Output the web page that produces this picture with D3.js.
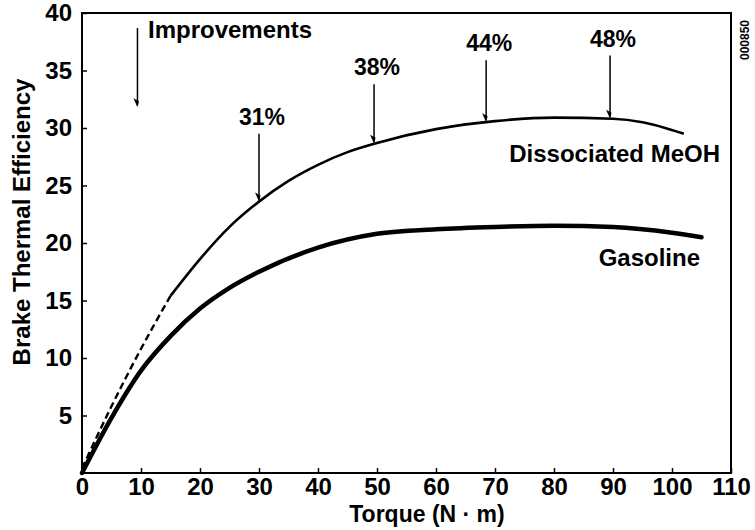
<!DOCTYPE html>
<html>
<head>
<meta charset="utf-8">
<script src="https://cdn.jsdelivr.net/npm/d3@7"></script>
<style>
  body { margin: 0; background: #fff; }
  text { font-family: "Liberation Sans", Arial, sans-serif; font-weight: bold; fill: #000; }
</style>
</head>
<body>
<div id="chart"></div>
<script>
// Torque (N·m) vs brake thermal efficiency (%)
const torqueTicks = [0, 10, 20, 30, 40, 50, 60, 70, 80, 90, 100, 110];
const effTicks = [5, 10, 15, 20, 25, 30, 35, 40];

// Dissociated MeOH, dashed start (extrapolated part)
const meohDashedTorque = [0, 5, 10, 15];
const meohDashedEff = [0.4, 5.8, 10.8, 15.4];
// Dissociated MeOH, measured part
const meohTorque = [15, 20, 25, 30, 35, 40, 45, 50, 60, 70, 80, 90, 95, 102];
const meohEff = [15.4, 18.6, 21.4, 23.6, 25.4, 26.8, 27.9, 28.7, 29.9, 30.6, 30.9, 30.8, 30.5, 29.5];

// Gasoline
const gasTorque = [0, 5, 10, 15, 20, 25, 30, 40, 50, 60, 70, 80, 90, 100, 105];
const gasEff = [0, 4.8, 8.9, 11.9, 14.3, 16.1, 17.5, 19.6, 20.8, 21.2, 21.4, 21.5, 21.4, 20.9, 20.5];

// Improvement arrows: torque position, top of arrow (efficiency units), label
const arrowTorque = [30, 49.5, 68.5, 89.5];
const arrowTop = [29.5, 33.8, 35.9, 36.3];
const arrowLabels = ["31%", "38%", "44%", "48%"];

const width = 755, height = 530;
const margin = { top: 13, right: 24, bottom: 57, left: 82 };

const svg = d3.select("#chart").append("svg")
    .attr("width", width)
    .attr("height", height);

const x = d3.scaleLinear().domain([0, 110]).range([margin.left, width - margin.right]);
const y = d3.scaleLinear().domain([0, 40]).range([height - margin.bottom, margin.top]);

// frame
svg.append("rect")
    .attr("x", x(0)).attr("y", y(40))
    .attr("width", x(110) - x(0)).attr("height", y(0) - y(40))
    .attr("fill", "none").attr("stroke", "#000").attr("stroke-width", 2);

// x axis, ticks pointing inward
const xAxis = svg.append("g")
    .attr("transform", `translate(0,${y(0)})`)
    .call(d3.axisBottom(x).tickValues(torqueTicks).tickSizeInner(-5).tickSizeOuter(0).tickPadding(5).tickFormat(d3.format("d")));
xAxis.select(".domain").remove();
xAxis.selectAll("line").attr("stroke-width", 1.5);
xAxis.selectAll("text").attr("font-size", 24).attr("font-family", "Liberation Sans, Arial, sans-serif");

// y axis, ticks pointing inward
const yAxis = svg.append("g")
    .attr("transform", `translate(${x(0)},0)`)
    .call(d3.axisLeft(y).tickValues(effTicks).tickSizeInner(-5).tickSizeOuter(0).tickPadding(10).tickFormat(d3.format("d")));
yAxis.select(".domain").remove();
yAxis.selectAll("line").attr("stroke-width", 1.5);
yAxis.selectAll("text").attr("font-size", 24).attr("font-family", "Liberation Sans, Arial, sans-serif");

// axis titles
svg.append("text")
    .attr("x", 427).attr("y", 522)
    .attr("text-anchor", "middle")
    .attr("font-size", 23)
    .text("Torque (N · m)");

svg.append("text")
    .attr("transform", "translate(30,222) rotate(-90)")
    .attr("text-anchor", "middle")
    .attr("font-size", 24)
    .text("Brake Thermal Efficiency");

svg.append("text")
    .attr("transform", "translate(749,40) rotate(-90)")
    .attr("text-anchor", "middle")
    .attr("font-size", 12)
    .text("000850");

// curves
const line = d3.line()
    .x(d => x(d[0]))
    .y(d => y(d[1]))
    .curve(d3.curveMonotoneX);

svg.append("path")
    .datum(meohDashedTorque.map((t, i) => [t, meohDashedEff[i]]))
    .attr("d", line)
    .attr("fill", "none").attr("stroke", "#000")
    .attr("stroke-width", 2.4).attr("stroke-dasharray", "7,4");

svg.append("path")
    .datum(meohTorque.map((t, i) => [t, meohEff[i]]))
    .attr("d", line)
    .attr("fill", "none").attr("stroke", "#000").attr("stroke-width", 2.6);

svg.append("path")
    .datum(gasTorque.map((t, i) => [t, gasEff[i]]))
    .attr("d", line)
    .attr("fill", "none").attr("stroke", "#000").attr("stroke-width", 4.5)
    .attr("stroke-linecap", "round");

// value on MeOH curve at a given torque
const meohAt = d3.scaleLinear().domain(meohTorque).range(meohEff);

function arrow(tx, yTop, yTip) {
    const px = x(tx), p0 = y(yTop), p1 = y(yTip);
    svg.append("line")
        .attr("x1", px).attr("x2", px)
        .attr("y1", p0).attr("y2", p1 - 2)
        .attr("stroke", "#000").attr("stroke-width", 1.5);
    svg.append("path")
        .attr("d", `M${px},${p1} L${px - 4},${p1 - 9} L${px + 1.5},${p1 - 6} Z`)
        .attr("fill", "#000");
}

arrowTorque.forEach((t, i) => {
    arrow(t, arrowTop[i], meohAt(t));
    svg.append("text")
        .attr("x", x(t) + 3)
        .attr("y", y(arrowTop[i]) - 9)
        .attr("text-anchor", "middle")
        .attr("font-size", 23)
        .text(arrowLabels[i]);
});

// "Improvements" arrow
arrow(9.4, 38.7, 31.8);
svg.append("text")
    .attr("x", 148).attr("y", 38)
    .attr("font-size", 24)
    .text("Improvements");

// curve labels
svg.append("text")
    .attr("x", 720).attr("y", 162)
    .attr("text-anchor", "end")
    .attr("font-size", 24)
    .text("Dissociated MeOH");

svg.append("text")
    .attr("x", 700).attr("y", 266)
    .attr("text-anchor", "end")
    .attr("font-size", 24)
    .text("Gasoline");
</script>
</body>
</html>
